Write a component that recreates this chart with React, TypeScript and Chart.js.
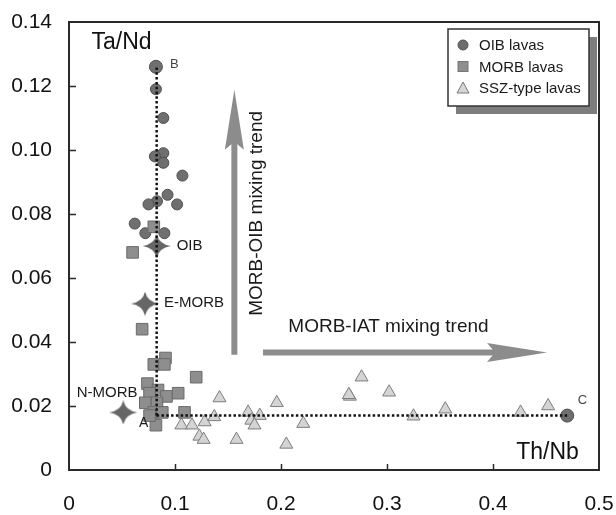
import React, { useEffect, useRef } from 'react';
import { Chart, registerables } from 'chart.js';

Chart.register(...registerables);

// ---- Data ----
// OIB lavas (first point = B end-member, last point = C end-member)
const oibX = [0.082, 0.082, 0.089, 0.089, 0.081, 0.089, 0.107, 0.093, 0.083, 0.075, 0.102, 0.062, 0.072, 0.090, 0.470];
const oibY = [0.126, 0.119, 0.110, 0.099, 0.098, 0.096, 0.092, 0.086, 0.084, 0.083, 0.083, 0.077, 0.074, 0.074, 0.017];

// MORB lavas
const morbX = [0.080, 0.060, 0.069, 0.080, 0.091, 0.090, 0.120, 0.074, 0.084, 0.076, 0.092, 0.103, 0.072, 0.083, 0.080, 0.088, 0.109, 0.082, 0.076];
const morbY = [0.076, 0.068, 0.044, 0.033, 0.035, 0.033, 0.029, 0.027, 0.025, 0.024, 0.023, 0.024, 0.021, 0.021, 0.018, 0.018, 0.018, 0.014, 0.017];

// SSZ-type lavas
const sszX = [0.142, 0.106, 0.116, 0.128, 0.137, 0.123, 0.127, 0.158, 0.169, 0.172, 0.180, 0.175, 0.196, 0.221, 0.205, 0.265, 0.264, 0.276, 0.302, 0.325, 0.355, 0.426, 0.452];
const sszY = [0.0225, 0.014, 0.014, 0.015, 0.0166, 0.0105, 0.0095, 0.0095, 0.018, 0.0155, 0.017, 0.014, 0.021, 0.0145, 0.008, 0.023, 0.0235, 0.029, 0.0243, 0.0168, 0.019, 0.018, 0.020];

// Reference compositions (stars)
const refNames = ['OIB', 'E-MORB', 'N-MORB'];
const refX = [0.0827, 0.0717, 0.0512];
const refY = [0.070, 0.052, 0.018];

// Mixing lines A-B and A-C
const lineABx = [0.0827, 0.0827];
const lineABy = [0.017, 0.1263];
const lineACx = [0.0827, 0.4705];
const lineACy = [0.017, 0.017];

// Axis ticks
const xTickValues = [0, 0.1, 0.2, 0.3, 0.4, 0.5];
const xTickLabels = ['0', '0.1', '0.2', '0.3', '0.4', '0.5'];
const yTickValues = [0, 0.02, 0.04, 0.06, 0.08, 0.1, 0.12, 0.14];
const yTickLabels = ['0', '0.02', '0.04', '0.06', '0.08', '0.10', '0.12', '0.14'];

// Legend
const legendLabels = ['OIB lavas', 'MORB lavas', 'SSZ-type lavas'];

// Annotation texts (anchored in data coordinates)
const pointLabels = [
  { text: 'B', x: 0.0953, y: 0.1266, size: 13 },
  { text: 'C', x: 0.480, y: 0.0217, size: 13 },
  { text: 'A', x: 0.066, y: 0.0147, size: 14 },
  { text: refNames[0], x: 0.1016, y: 0.0699, size: 15 },
  { text: refNames[1], x: 0.0896, y: 0.0522, size: 15 },
  { text: refNames[2], x: 0.0073, y: 0.0241, size: 15 },
];

// Mixing trend arrows
const arrowOIB = { x1: 0.156, y1: 0.036, x2: 0.156, y2: 0.1188, label: 'MORB-OIB mixing trend', lx: 0.177, ly: 0.0802 };
const arrowIAT = { x1: 0.183, y1: 0.0367, x2: 0.451, y2: 0.0367, label: 'MORB-IAT mixing trend', lx: 0.3014, ly: 0.0448 };

const FONT = '"Liberation Sans", Arial, Helvetica, sans-serif';

function zip(xs: number[], ys: number[]) {
  return xs.map((x, i) => ({ x, y: ys[i] }));
}

function makeStar(w: number, h: number, color: string) {
  const c = document.createElement('canvas');
  c.width = w;
  c.height = h;
  const g = c.getContext('2d')!;
  const cx = w / 2, cy = h / 2, ix = w * 0.08, iy = h * 0.08;
  g.beginPath();
  g.moveTo(0, cy);
  g.quadraticCurveTo(cx - ix, cy - iy, cx, 0);
  g.quadraticCurveTo(cx + ix, cy - iy, w, cy);
  g.quadraticCurveTo(cx + ix, cy + iy, cx, h);
  g.quadraticCurveTo(cx - ix, cy + iy, 0, cy);
  g.closePath();
  g.fillStyle = color;
  g.fill();
  return c;
}

function drawArrow(ctx: CanvasRenderingContext2D, x1: number, y1: number, x2: number, y2: number) {
  const headLen = 60, headW = 19, shaftW = 6, notch = 8;
  const dx = x2 - x1, dy = y2 - y1;
  const len = Math.hypot(dx, dy);
  const ux = dx / len, uy = dy / len;
  const px = -uy, py = ux;
  const bx = x2 - ux * headLen, by = y2 - uy * headLen;
  ctx.save();
  ctx.fillStyle = '#8c8c8c';
  ctx.strokeStyle = '#8c8c8c';
  ctx.lineWidth = shaftW;
  ctx.beginPath();
  ctx.moveTo(x1, y1);
  ctx.lineTo(bx + ux * notch, by + uy * notch);
  ctx.stroke();
  ctx.beginPath();
  ctx.moveTo(x2, y2);
  ctx.lineTo(bx + px * headW / 2, by + py * headW / 2);
  ctx.lineTo(bx + ux * notch, by + uy * notch);
  ctx.lineTo(bx - px * headW / 2, by - py * headW / 2);
  ctx.closePath();
  ctx.fill();
  ctx.restore();
}

const decorPlugin = {
  id: 'decor',
  beforeDatasetsDraw(chart: any) {
    const ctx: CanvasRenderingContext2D = chart.ctx;
    const xs = chart.scales.x, ys = chart.scales.y;
    for (const a of [arrowOIB, arrowIAT]) {
      drawArrow(ctx, xs.getPixelForValue(a.x1), ys.getPixelForValue(a.y1), xs.getPixelForValue(a.x2), ys.getPixelForValue(a.y2));
    }
    ctx.save();
    ctx.fillStyle = '#1a1a1a';
    ctx.font = `19px ${FONT}`;
    ctx.textAlign = 'center';
    ctx.textBaseline = 'middle';
    ctx.save();
    ctx.translate(xs.getPixelForValue(arrowOIB.lx), ys.getPixelForValue(arrowOIB.ly));
    ctx.rotate(-Math.PI / 2);
    ctx.fillText(arrowOIB.label, 0, 0);
    ctx.restore();
    ctx.fillText(arrowIAT.label, xs.getPixelForValue(arrowIAT.lx), ys.getPixelForValue(arrowIAT.ly));
    ctx.restore();
  },
  afterDraw(chart: any) {
    const ctx: CanvasRenderingContext2D = chart.ctx;
    const xs = chart.scales.x, ys = chart.scales.y;
    const { left, right, top, bottom } = chart.chartArea;
    ctx.save();
    // frame
    ctx.strokeStyle = '#2a2a2a';
    ctx.lineWidth = 2;
    ctx.strokeRect(left, top, right - left, bottom - top);
    // inward ticks
    ctx.lineWidth = 1.5;
    ctx.beginPath();
    for (const v of xTickValues.slice(1, -1)) {
      const px = Math.round(xs.getPixelForValue(v)) + 0.5;
      ctx.moveTo(px, bottom);
      ctx.lineTo(px, bottom - 6);
    }
    for (const v of yTickValues.slice(1, -1)) {
      const py = Math.round(ys.getPixelForValue(v)) + 0.5;
      ctx.moveTo(left, py);
      ctx.lineTo(left + 7, py);
    }
    ctx.stroke();

    // axis titles inside plot
    ctx.fillStyle = '#111';
    ctx.textBaseline = 'middle';
    ctx.font = `23px ${FONT}`;
    ctx.textAlign = 'left';
    ctx.fillText('Ta/Nd', xs.getPixelForValue(0.0213), ys.getPixelForValue(0.1334));
    ctx.textAlign = 'center';
    ctx.fillText('Th/Nb', xs.getPixelForValue(0.4514), ys.getPixelForValue(0.0055));

    // point labels
    ctx.textAlign = 'left';
    for (const l of pointLabels) {
      ctx.font = `${l.size}px ${FONT}`;
      ctx.fillStyle = l.size <= 13 ? '#444' : '#1a1a1a';
      ctx.fillText(l.text, xs.getPixelForValue(l.x), ys.getPixelForValue(l.y));
    }

    // legend box with shadow
    const bx = 448, by = 29, bw = 141, bh = 77;
    ctx.fillStyle = '#7d7d7d';
    ctx.fillRect(bx + 8, by + 8, bw, bh);
    ctx.fillStyle = '#ffffff';
    ctx.fillRect(bx, by, bw, bh);
    ctx.strokeStyle = '#333';
    ctx.lineWidth = 1.5;
    ctx.strokeRect(bx, by, bw, bh);
    const mx = 463;
    const rowsY = [45, 66.5, 88];
    ctx.fillStyle = '#6e6e6e';
    ctx.strokeStyle = '#555';
    ctx.lineWidth = 1;
    ctx.beginPath();
    ctx.arc(mx, rowsY[0], 5, 0, Math.PI * 2);
    ctx.fill();
    ctx.stroke();
    ctx.fillStyle = '#8f8f8f';
    ctx.strokeStyle = '#777';
    ctx.fillRect(mx - 5, rowsY[1] - 5, 10, 10);
    ctx.strokeRect(mx - 5, rowsY[1] - 5, 10, 10);
    ctx.fillStyle = '#d6d6d6';
    ctx.strokeStyle = '#7a7a7a';
    ctx.beginPath();
    ctx.moveTo(mx, rowsY[2] - 6);
    ctx.lineTo(mx + 6, rowsY[2] + 5);
    ctx.lineTo(mx - 6, rowsY[2] + 5);
    ctx.closePath();
    ctx.fill();
    ctx.stroke();
    ctx.fillStyle = '#1a1a1a';
    ctx.font = `15px ${FONT}`;
    ctx.textAlign = 'left';
    legendLabels.forEach((t, i) => ctx.fillText(t, 479, rowsY[i] + 1));
    ctx.restore();
  },
};

export default function App() {
  const ref = useRef<HTMLCanvasElement | null>(null);

  useEffect(() => {
    if (!ref.current) return;
    const star = makeStar(28, 24, '#666666');
    const lastOib = oibX.length - 1;
    const chart = new Chart(ref.current, {
      type: 'scatter',
      data: {
        datasets: [
          {
            label: 'A-B',
            type: 'line',
            data: zip(lineABx, lineABy),
            borderColor: '#111',
            borderWidth: 2.5,
            borderDash: [2.5, 2.3],
            pointRadius: 0,
            showLine: true,
            fill: false,
            order: 0,
          } as any,
          {
            label: 'A-C',
            type: 'line',
            data: zip(lineACx, lineACy),
            borderColor: '#111',
            borderWidth: 2.5,
            borderDash: [2.5, 2.3],
            pointRadius: 0,
            showLine: true,
            fill: false,
            order: 0,
          } as any,
          {
            label: 'SSZ-type lavas',
            data: zip(sszX, sszY),
            pointStyle: 'triangle',
            pointRadius: 7.5,
            backgroundColor: '#d4d4d4',
            borderColor: '#7d7d7d',
            borderWidth: 1,
            order: 3,
          },
          {
            label: 'MORB lavas',
            data: zip(morbX, morbY),
            pointStyle: 'rect',
            pointRadius: 8.2,
            backgroundColor: '#8e8e8e',
            borderColor: '#6a6a6a',
            borderWidth: 1,
            order: 2,
          },
          {
            label: 'OIB lavas',
            data: zip(oibX, oibY),
            pointStyle: 'circle',
            pointRadius: (c: any) => (c.dataIndex === 0 || c.dataIndex === lastOib ? 6.5 : 5.5),
            backgroundColor: '#6f6f6f',
            borderColor: '#4f4f4f',
            borderWidth: 1,
            order: 2,
          },
          {
            label: 'Reference',
            data: zip(refX, refY),
            pointStyle: star as any,
            pointRadius: 12,
            order: 1,
          },
        ],
      },
      options: {
        responsive: false,
        animation: false,
        events: [],
        layout: { padding: { top: 22, right: 17, left: 0, bottom: 0 } },
        plugins: {
          legend: { display: false },
          tooltip: { enabled: false },
        },
        scales: {
          x: {
            type: 'linear',
            min: 0,
            max: 0.5,
            afterBuildTicks: (s: any) => {
              s.ticks = xTickValues.map((v) => ({ value: v }));
            },
            afterFit: (s: any) => {
              s.height = 45;
              s.paddingLeft = 0;
              s.paddingRight = 0;
            },
            ticks: {
              callback: (_v: any, i: number) => xTickLabels[i],
              font: { family: FONT, size: 21 },
              color: '#111',
              padding: 22,
              maxRotation: 0,
              autoSkip: false,
            },
            grid: { display: false, drawTicks: false },
            border: { display: false },
          },
          y: {
            type: 'linear',
            min: 0,
            max: 0.14,
            afterBuildTicks: (s: any) => {
              s.ticks = yTickValues.map((v) => ({ value: v }));
            },
            afterFit: (s: any) => {
              s.width = 69;
              s.paddingTop = 0;
              s.paddingBottom = 0;
            },
            ticks: {
              callback: (_v: any, i: number) => yTickLabels[i],
              font: { family: FONT, size: 21 },
              color: '#111',
              padding: 17,
              autoSkip: false,
            },
            grid: { display: false, drawTicks: false },
            border: { display: false },
          },
        },
      },
      plugins: [decorPlugin],
    });
    return () => chart.destroy();
  }, []);

  return (
    <div style={{ position: 'absolute', left: 0, top: 0, width: 616, height: 515, background: '#fff' }}>
      <canvas ref={ref} width={616} height={515} style={{ display: 'block' }} />
    </div>
  );
}
